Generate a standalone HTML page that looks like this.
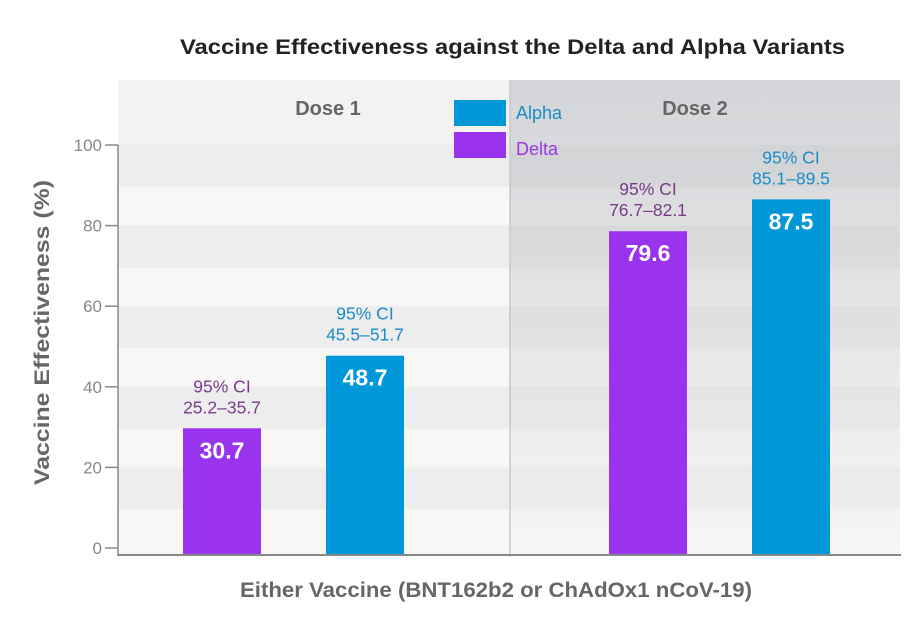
<!DOCTYPE html>
<html><head><meta charset="utf-8"><style>
body{margin:0;background:#fff;width:917px;height:629px;overflow:hidden;font-family:"Liberation Sans",sans-serif}
</style></head><body>
<svg width="917" height="629" xmlns="http://www.w3.org/2000/svg">
<defs>
<linearGradient id="g2" x1="0" y1="0" x2="0" y2="1">
<stop offset="0" stop-color="#d4d5d8"/><stop offset="1" stop-color="#f6f6f6"/>
</linearGradient>
</defs>
<g id="bg"></g>
<g id="marks"></g>
<text x="180" y="54" textLength="665" lengthAdjust="spacingAndGlyphs" font-size="21" font-weight="bold" fill="#222">Vaccine Effectiveness against the Delta and Alpha Variants</text>
<text transform="translate(49,485) rotate(-90)" textLength="305" lengthAdjust="spacingAndGlyphs" font-size="21" font-weight="bold" fill="#666">Vaccine Effectiveness (%)</text>
<text x="240" y="597" textLength="512" lengthAdjust="spacingAndGlyphs" font-size="21" font-weight="bold" fill="#666">Either Vaccine (BNT162b2 or ChAdOx1 nCoV-19)</text>
<text x="328" y="115" text-anchor="middle" font-size="20" font-weight="bold" fill="#666">Dose 1</text>
<text x="695" y="115" text-anchor="middle" font-size="20" font-weight="bold" fill="#666">Dose 2</text>
<rect x="454" y="100" width="52" height="26" fill="#0098d8"/>
<text x="516" y="119" font-size="18" fill="#1a8cc8">Alpha</text>
<rect x="454" y="132" width="52" height="26" fill="#9933ee"/>
<text x="516" y="155" font-size="18" fill="#9b35e8">Delta</text>
</svg>
<script>
const categories=["Dose 1 Delta","Dose 1 Alpha","Dose 2 Delta","Dose 2 Alpha"];
const values=[30.7,48.7,79.6,87.5];
const ciLabels=["25.2–35.7","45.5–51.7","76.7–82.1","85.1–89.5"];
const variants=["delta","alpha","delta","alpha"];
const ticks=[0,20,40,60,80,100];
const NS="http://www.w3.org/2000/svg";
const y=v=>552-4.03*v;
const xs=[183,326,609,752], bw=78;
function mk(t,a,p){const e=document.createElementNS(NS,t);for(const k in a)e.setAttribute(k,a[k]);p.appendChild(e);return e;}
const bg=document.getElementById('bg'), mg=document.getElementById('marks');
let r=mk('rect',{x:118,y:80,width:392,height:475,fill:'#f8f7f6'},bg);

r=mk('rect',{x:510,y:80,width:390,height:475,fill:'url(#g2)'},bg);

mk('rect',{x:118,y:80,width:392,height:65,fill:'#f3f2f1'},bg);
ticks.forEach(t=>{if(t===0)return;
 const yt=y(t)-4;
 let b=mk('rect',{x:118,y:yt,width:392,height:42,fill:'#eeeded'},bg);
 
 b=mk('rect',{x:510,y:yt,width:390,height:42,fill:'#000','fill-opacity':0.025},bg);
 
});
mk('line',{x1:510,y1:80,x2:510,y2:557,stroke:'#c8c8ca','stroke-width':1.5},bg);
ticks.forEach(t=>{const yt=y(t)-4;
 let l=mk('line',{x1:105,y1:yt,x2:118,y2:yt,stroke:'#888','stroke-width':1.5},bg);
 
 let tx=mk('text',{x:102,y:yt+6,'text-anchor':'end','font-size':17,fill:'#888'},bg);tx.textContent=t;
 
});
mk('line',{x1:118,y1:145,x2:118,y2:556,stroke:'#888','stroke-width':1.5},bg);
mk('line',{x1:118,y1:555,x2:901,y2:555,stroke:'#888','stroke-width':2},bg);
values.forEach((v,i)=>{
 const top=y(v), col=variants[i]==='delta'?'#9933ee':'#0098d8', ci=variants[i]==='delta'?'#7a3a8a':'#1a8cc8', cx=xs[i]+bw/2;
 let b=mk('rect',{x:xs[i],y:top,width:bw,height:554-top,fill:col},mg);
 
 
 let t=mk('text',{x:cx,y:top+30,'text-anchor':'middle','font-size':23,'font-weight':'bold',fill:'#fff'},mg);t.textContent=v.toFixed(1);
 
 t=mk('text',{x:cx,y:top-36,'text-anchor':'middle','font-size':17.5,fill:ci},mg);t.textContent="95% CI";
 
 t=mk('text',{x:cx,y:top-15,'text-anchor':'middle','font-size':17.5,fill:ci},mg);t.textContent=ciLabels[i];
 
});
</script>
</body></html>
